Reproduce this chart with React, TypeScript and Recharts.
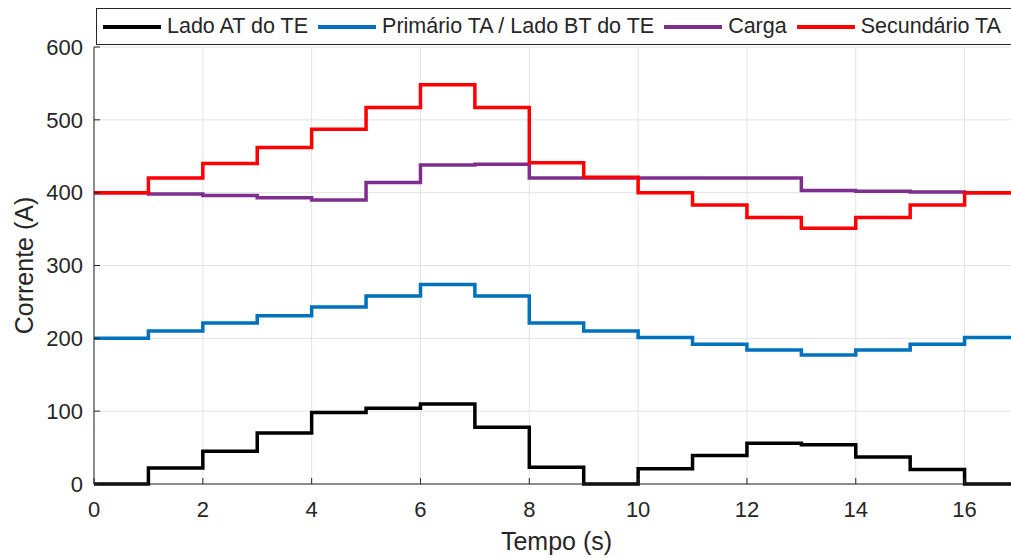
import {
  LineChart,
  Line,
  XAxis,
  YAxis,
  CartesianGrid,
  Label,
} from "recharts";

// tempo (s), valores constantes por intervalo de 1 s (degrau)
const tempo = [0, 1, 2, 3, 4, 5, 6, 7, 8, 9, 10, 11, 12, 13, 14, 15, 16, 17];
const ladoAT = [0, 22, 45, 70, 98, 104, 110, 78, 23, 0, 21, 39, 56, 54, 37, 20, 0, 0];
const primarioTA = [200, 210, 221, 231, 243, 258, 274, 258, 221, 210, 201, 192, 184, 177, 184, 192, 201, 201];
const carga = [400, 398, 396, 393, 390, 414, 438, 439, 420, 420, 420, 420, 420, 403, 402, 401, 400, 400];
const secundarioTA = [400, 420, 440, 462, 487, 517, 548, 517, 441, 421, 400, 383, 366, 351, 366, 383, 400, 400];

const xTicks = [0, 2, 4, 6, 8, 10, 12, 14, 16];
const yTicks = [0, 100, 200, 300, 400, 500, 600];

const SERIES = [
  { key: "ladoAT", name: "Lado AT do TE", color: "#000000" },
  { key: "primarioTA", name: "Primário TA / Lado BT do TE", color: "#0072BD" },
  { key: "carga", name: "Carga", color: "#7E2F8E" },
  { key: "secundarioTA", name: "Secundário TA", color: "#FF0000" },
];

const FONT = "'Liberation Sans', Arial, Helvetica, sans-serif";
const AXIS_COLOR = "#262626";

const data = tempo.map((t, i) => ({
  t,
  ladoAT: ladoAT[i],
  primarioTA: primarioTA[i],
  carga: carga[i],
  secundarioTA: secundarioTA[i],
}));

function LegendBox() {
  return (
    <div
      style={{
        position: "absolute",
        left: 96,
        top: 8,
        right: -40,
        height: 35,
        border: `1px solid ${AXIS_COLOR}`,
        background: "#fff",
        display: "flex",
        alignItems: "center",
        paddingLeft: 6,
        whiteSpace: "nowrap",
        fontFamily: FONT,
        fontSize: 21.5,
        color: AXIS_COLOR,
        zIndex: 2,
      }}
    >
      {SERIES.map((s) => (
        <div key={s.key} style={{ display: "flex", alignItems: "center", marginRight: 10 }}>
          <span
            style={{
              display: "inline-block",
              width: 58,
              height: 4,
              background: s.color,
              marginRight: 6,
            }}
          />
          <span>{s.name}</span>
        </div>
      ))}
    </div>
  );
}

export default function App() {
  return (
    <div
      style={{
        position: "fixed",
        left: 0,
        top: 0,
        width: 1011,
        height: 558,
        overflow: "hidden",
        background: "#fff",
        fontFamily: FONT,
      }}
    >
      <LegendBox />
      <LineChart
        width={1030}
        height={558}
        data={data}
        margin={{ top: 47, right: 11, left: 0, bottom: 0 }}
        style={{ fontFamily: FONT }}
      >
        <CartesianGrid stroke="#e3e3e3" strokeWidth={1} />
        <XAxis
          xAxisId="top"
          orientation="top"
          dataKey="t"
          type="number"
          domain={[0, 17]}
          ticks={xTicks}
          height={0}
          tick={false}
          tickSize={-6}
          stroke={AXIS_COLOR}
        />
        <XAxis
          dataKey="t"
          type="number"
          domain={[0, 17]}
          ticks={xTicks}
          height={74}
          tickSize={-6}
          tickMargin={23}
          stroke={AXIS_COLOR}
          tick={{ fill: AXIS_COLOR, fontSize: 22 }}
        >
          <Label
            value="Tempo (s)"
            position="insideBottom"
            offset={8}
            style={{ fill: AXIS_COLOR, fontSize: 25 }}
          />
        </XAxis>
        <YAxis
          type="number"
          domain={[0, 600]}
          ticks={yTicks}
          width={94}
          tickSize={-6}
          tickMargin={17}
          stroke={AXIS_COLOR}
          tick={{ fill: AXIS_COLOR, fontSize: 22 }}
        >
          <Label
            content={(props: any) => {
              const vb = props.viewBox || {};
              const cx = 24;
              const cy = vb.y + vb.height / 2;
              return (
                <text
                  x={cx}
                  y={cy}
                  transform={`rotate(-90 ${cx} ${cy})`}
                  textAnchor="middle"
                  dominantBaseline="central"
                  fill={AXIS_COLOR}
                  fontSize={25}
                >
                  Corrente (A)
                </text>
              );
            }}
          />
        </YAxis>
        {SERIES.map((s) => (
          <Line
            key={s.key}
            type="stepAfter"
            dataKey={s.key}
            name={s.name}
            stroke={s.color}
            strokeWidth={3.5}
            dot={false}
            activeDot={false}
            isAnimationActive={false}
          />
        ))}
      </LineChart>
    </div>
  );
}
